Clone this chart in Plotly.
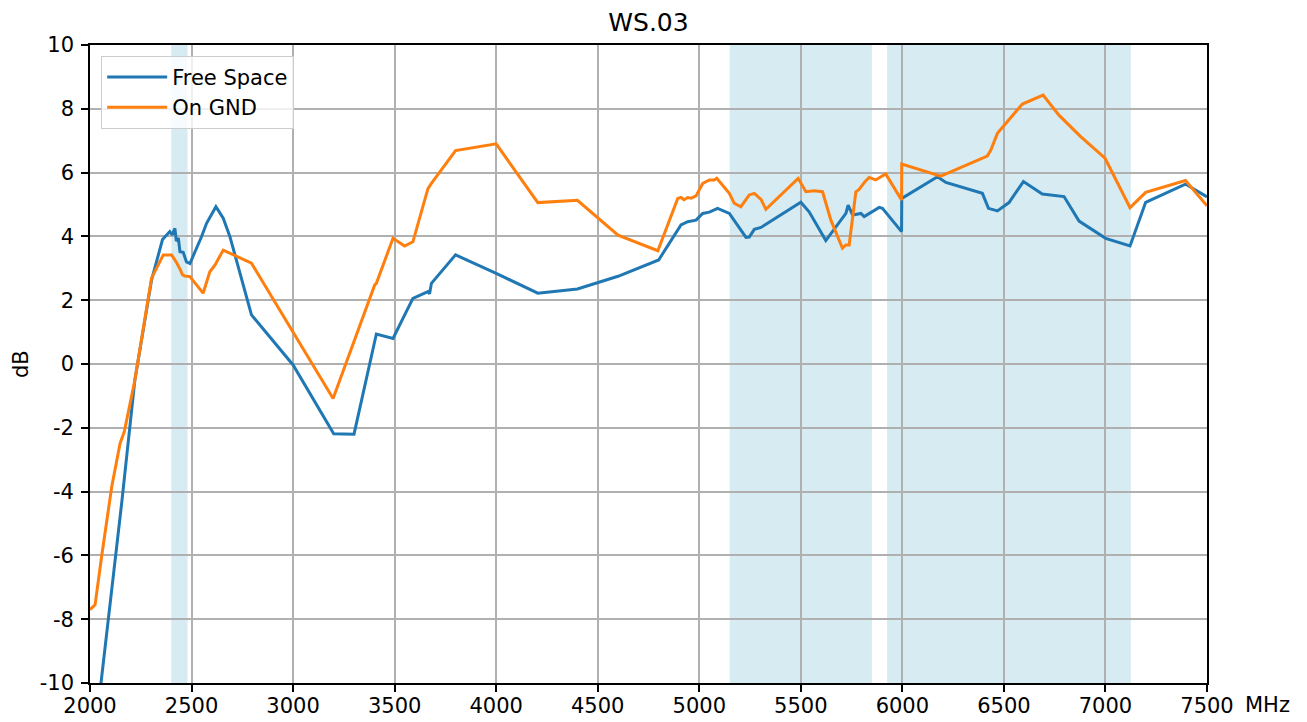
import plotly.graph_objects as go

# ---------------- data ----------------
free_x = [2000, 2156, 2221, 2303, 2357, 2393, 2405, 2418, 2425, 2435, 2443, 2459, 2475, 2492,
          2549, 2574, 2620, 2656, 2689, 2795, 3000, 3200, 3300, 3410, 3492, 3590, 3664, 3672,
          3681, 3800, 4000, 4205, 4400, 4600, 4800, 4910, 4943, 4984, 5017, 5050, 5090, 5148,
          5230, 5246, 5271, 5304, 5500, 5541, 5623, 5722, 5733, 5755, 5796, 5812, 5886, 5902,
          5996, 5997, 6173, 6214, 6394, 6424, 6468, 6525, 6596, 6689, 6796, 6870, 7001, 7121,
          7198, 7394, 7500]
free_y = [-13.0, -4.36, -0.5, 2.63, 3.9, 4.15, 4.05, 4.25, 3.85, 3.95, 3.52, 3.5, 3.2, 3.15,
          3.99, 4.41, 4.93, 4.57, 3.99, 1.54, -0.03, -2.19, -2.2, 0.94, 0.8, 2.06, 2.27, 2.2,
          2.53, 3.42, 2.84, 2.22, 2.35, 2.75, 3.26, 4.36, 4.46, 4.51, 4.72, 4.76, 4.88, 4.72,
          3.97, 3.98, 4.22, 4.28, 5.07, 4.77, 3.87, 4.72, 4.98, 4.67, 4.72, 4.62, 4.91, 4.88,
          4.15, 5.19, 5.87, 5.69, 5.35, 4.88, 4.8, 5.06, 5.72, 5.33, 5.25, 4.48, 3.94, 3.7,
          5.07, 5.64, 5.24]

gnd_x = [2000, 2025, 2057, 2107, 2148, 2169, 2221, 2295, 2303, 2361, 2402, 2426, 2434, 2445,
         2455, 2467, 2492, 2557, 2590, 2615, 2656, 2795, 3197, 3402, 3410, 3492, 3549, 3590,
         3664, 3681, 3800, 4000, 4205, 4400, 4600, 4796, 4894, 4910, 4925, 4943, 4960, 4984,
         5017, 5050, 5074, 5086, 5148, 5172, 5205, 5246, 5271, 5304, 5328, 5487, 5525, 5566,
         5607, 5648, 5705, 5722, 5738, 5771, 5787, 5815, 5836, 5869, 5918, 5996, 5997, 6189,
         6418, 6435, 6468, 6591, 6693, 6771, 6878, 6998, 7121, 7198, 7394, 7500]
gnd_y = [-7.7, -7.55, -6.04, -3.85, -2.49, -2.12, -0.5, 2.42, 2.69, 3.42, 3.42, 3.18, 3.1, 2.95,
         2.8, 2.76, 2.74, 2.22, 2.89, 3.1, 3.57, 3.16, -1.08, 2.48, 2.53, 3.94, 3.7, 3.83,
         5.5, 5.66, 6.69, 6.9, 5.06, 5.13, 4.04, 3.55, 5.19, 5.22, 5.15, 5.22, 5.2, 5.27,
         5.66, 5.77, 5.77, 5.82, 5.35, 5.04, 4.93, 5.3, 5.35, 5.16, 4.85, 5.82, 5.4, 5.43,
         5.4, 4.51, 3.63, 3.73, 3.73, 5.4, 5.47, 5.71, 5.85, 5.77, 5.96, 5.14, 6.27, 5.89,
         6.52, 6.7, 7.23, 8.15, 8.43, 7.8, 7.13, 6.45, 4.9, 5.38, 5.75, 4.96]

bands_start = [2400, 5150, 5925]
bands_end = [2480, 5850, 7125]

x_ticks = [2000, 2500, 3000, 3500, 4000, 4500, 5000, 5500, 6000, 6500, 7000, 7500]
y_ticks = [-10, -8, -6, -4, -2, 0, 2, 4, 6, 8, 10]

assert len(free_x) == len(free_y)
assert len(gnd_x) == len(gnd_y)

FONT = "DejaVu Sans"

fig = go.Figure()
fig.add_trace(go.Scatter(x=free_x, y=free_y, mode="lines", name="Free Space",
                         line=dict(color="#1f77b4", width=3)))
fig.add_trace(go.Scatter(x=gnd_x, y=gnd_y, mode="lines", name="On GND",
                         line=dict(color="#ff7f0e", width=3)))

for a, b in zip(bands_start, bands_end):
    fig.add_shape(type="rect", xref="x", yref="paper", x0=a, x1=b, y0=0, y1=1,
                  fillcolor="#d6ebf2", line=dict(width=0), layer="below")

axis_common = dict(showline=True, linecolor="black", linewidth=1.6, mirror=True,
                   ticks="outside", ticklen=7, tickwidth=1.6, tickcolor="black",
                   showgrid=True, gridcolor="#b0b0b0", gridwidth=1.6, zeroline=False,
                   automargin=False,
                   tickfont=dict(family=FONT, size=21, color="black"))

fig.update_layout(
    width=1299, height=714,
    margin=dict(l=82, r=100, t=37, b=39),
    paper_bgcolor="white", plot_bgcolor="white",
    title=dict(text="WS.03", x=0.5, xref="paper", xanchor="center", y=0.9804,
               yref="container", yanchor="middle",
               font=dict(family=FONT, size=25, color="black")),
    xaxis=dict(range=[2000, 7500], tickvals=x_ticks, ticktext=[str(v) for v in x_ticks],
               **axis_common),
    yaxis=dict(range=[-10, 10], tickvals=y_ticks, ticktext=[str(v) for v in y_ticks],
               ticklabelstandoff=3, **axis_common),
    legend=dict(x=0.01, y=0.983, xanchor="left", yanchor="top",
                bgcolor="rgba(255,255,255,0.8)", bordercolor="#cccccc", borderwidth=1,
                itemwidth=60,
                font=dict(family=FONT, size=21, color="black"), tracegroupgap=0),
    showlegend=True,
)

# pull the x tick labels slightly closer to the axis, if the property accepts it
try:
    fig.update_xaxes(ticklabelstandoff=-4)
except Exception:
    pass

fig.add_annotation(text="MHz", xref="paper", yref="paper", x=1, y=0, xanchor="left",
                   yanchor="top", xshift=36, yshift=-8, showarrow=False,
                   font=dict(family=FONT, size=21, color="black"))
fig.add_annotation(text="dB", xref="paper", yref="paper", x=0, y=0.5, xanchor="center",
                   yanchor="middle", xshift=-69, textangle=-90, showarrow=False,
                   font=dict(family=FONT, size=21, color="black"))

fig.write_html("out.html")
